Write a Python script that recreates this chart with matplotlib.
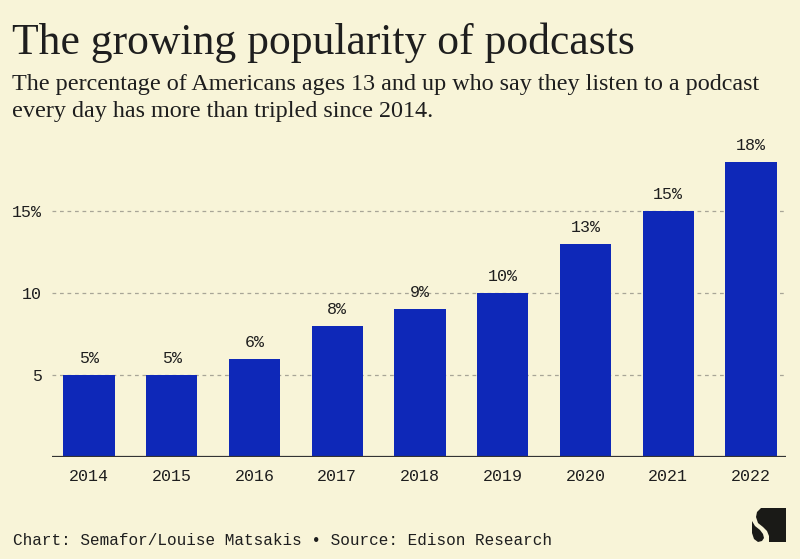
import matplotlib
matplotlib.use("Agg")
import matplotlib.pyplot as plt
from matplotlib.patches import Polygon

years = ["2014", "2015", "2016", "2017", "2018", "2019", "2020", "2021", "2022"]
share = [5, 5, 6, 8, 9, 10, 13, 15, 18]
ytick_vals = [5, 10, 15]
ytick_labels = ["5", "10", "15%"]

bg = "#f8f4d8"
blue = "#0e28b8"
ink = "#1e1e1e"
mono = ["Liberation Mono", "DejaVu Sans Mono"]
serif = ["Liberation Serif", "DejaVu Serif"]

fig = plt.figure(figsize=(8, 5.59), dpi=100, facecolor=bg)
ax = fig.add_axes([0.065, 0.1825, 0.9175, 0.5574], facecolor=bg)

x = range(len(years))
ax.bar(x, share, width=0.62, color=blue, zorder=3)
for xi, v in zip(x, share):
    ax.text(xi, v + 0.55, f"{v}%", ha="center", va="bottom",
            family=mono, fontsize=12, color=ink)

ax.set_xlim(-0.447, 8.423)
ax.set_ylim(0, 19)
ax.set_xticks(list(x))
ax.set_xticklabels(years, family=mono, fontsize=12, color=ink)
ax.set_yticks(ytick_vals)
ax.set_yticklabels(ytick_labels, family=mono, fontsize=12, color=ink)
ax.tick_params(length=0, pad=7)
ax.tick_params(axis="x", pad=9)
ax.grid(axis="y", color="#a8a597", linestyle=(0, (3, 3)), linewidth=0.9, zorder=0)
for s in ax.spines.values():
    s.set_visible(False)
ax.axhline(0, color="#333333", linewidth=1.6, zorder=4)

fig.text(0.015, 1 - 54 / 559, "The growing popularity of podcasts", family=serif,
         fontsize=31.4, color=ink, va="baseline", ha="left")
fig.text(0.015, 1 - 90 / 559,
         "The percentage of Americans ages 13 and up who say they listen to a podcast",
         family=serif, fontsize=17.4, color=ink, va="baseline", ha="left")
fig.text(0.015, 1 - 117 / 559, "every day has more than tripled since 2014.",
         family=serif, fontsize=17.4, color=ink, va="baseline", ha="left")

fig.text(0.016, 1 - 545 / 559, "Chart: Semafor/Louise Matsakis \u2022 Source: Edison Research",
         family=mono, fontsize=11.5, color=ink, va="baseline", ha="left")

# Semafor logo, drawn in a tiny pixel-coordinate axes
lx = fig.add_axes([752 / 800, 1 - 542 / 559, 34 / 800, 34 / 559])
lx.set_xlim(0, 34)
lx.set_ylim(34, 0)
lx.axis("off")
logo_col = "#1a1a17"
lx.add_patch(Polygon([(9, 0), (34, 0), (34, 34), (17, 34), (17, 28), (15, 23),
                      (11, 19), (6, 15), (4, 9), (5, 4)], closed=True,
                     color=logo_col, lw=0))
lx.add_patch(Polygon([(0, 13), (3, 18), (8, 22), (11, 26), (12, 30), (10, 33),
                      (6, 34), (2, 31), (0, 25)], closed=True,
                     color=logo_col, lw=0))

fig.savefig("out.png", dpi=100, facecolor=bg)
